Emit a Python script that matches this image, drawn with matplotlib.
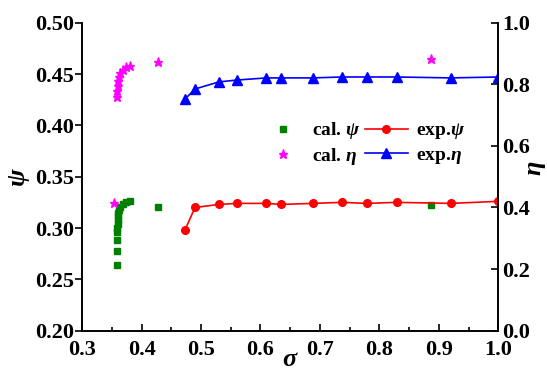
import matplotlib
matplotlib.use("Agg")
import matplotlib.pyplot as plt
from matplotlib.ticker import MultipleLocator, FormatStrFormatter

plt.rcParams['font.family'] = ['Liberation Serif', 'DejaVu Serif']
plt.rcParams['font.weight'] = 'bold'
plt.rcParams['mathtext.fontset'] = 'custom'
plt.rcParams['mathtext.it'] = 'Liberation Serif:italic:bold'
plt.rcParams['mathtext.rm'] = 'Liberation Serif:bold'

# calculated psi (green squares)
cal_psi_x = [0.359, 0.359, 0.359, 0.359, 0.359, 0.360, 0.360, 0.361, 0.361, 0.362,
             0.364, 0.369, 0.374, 0.381, 0.428, 0.887]
cal_psi_y = [0.264, 0.278, 0.288, 0.296, 0.300, 0.304, 0.308, 0.312, 0.315, 0.318,
             0.320, 0.323, 0.325, 0.326, 0.320, 0.322]

# calculated eta (magenta stars)
cal_eta_x = [0.354, 0.359, 0.359, 0.360, 0.361, 0.362, 0.364, 0.369, 0.374, 0.381, 0.428, 0.887]
cal_eta_y = [0.413, 0.760, 0.780, 0.796, 0.812, 0.825, 0.838, 0.848, 0.855, 0.861, 0.874, 0.884]

# experimental psi / eta
exp_x = [0.473, 0.49, 0.53, 0.56, 0.61, 0.635, 0.688, 0.737, 0.779, 0.829, 0.92, 1.0]
exp_psi = [0.298, 0.320, 0.323, 0.324, 0.324, 0.323, 0.324, 0.325, 0.324, 0.325, 0.324, 0.326]
exp_eta = [0.752, 0.785, 0.808, 0.814, 0.821, 0.821, 0.821, 0.824, 0.824, 0.824, 0.821, 0.824]

fig = plt.figure(figsize=(5.47, 3.74), dpi=100)
ax = fig.add_axes([0.150, 0.116, 0.761, 0.823])
ax2 = ax.twinx()

h1, = ax.plot(cal_psi_x, cal_psi_y, 's', color='#008000', markersize=5, linestyle='none', label=r'cal. $\psi$')
h3, = ax.plot(exp_x, exp_psi, '-o', color='#ff0000', markersize=5.5, linewidth=1.2, label=r'exp.$\psi$')
h2, = ax2.plot(cal_eta_x, cal_eta_y, '*', color='#ff00ff', markersize=6.5, linestyle='none', label=r'cal. $\eta$')
h4, = ax2.plot(exp_x, exp_eta, '-^', color='#0000ff', markersize=6.5, linewidth=1.2, label=r'exp.$\eta$')

ax.set_xlim(0.3, 1.0)
ax.set_ylim(0.20, 0.50)
ax2.set_ylim(0.0, 1.0)

ax.xaxis.set_major_locator(MultipleLocator(0.1))
ax.xaxis.set_minor_locator(MultipleLocator(0.05))
ax.yaxis.set_major_locator(MultipleLocator(0.05))
ax2.yaxis.set_major_locator(MultipleLocator(0.2))

ax.xaxis.set_major_formatter(FormatStrFormatter('%.1f'))
ax.yaxis.set_major_formatter(FormatStrFormatter('%.2f'))
ax2.yaxis.set_major_formatter(FormatStrFormatter('%.1f'))

for a in (ax, ax2):
    a.spines['top'].set_visible(False)
    for s in a.spines.values():
        s.set_linewidth(1.2)

ax.tick_params(axis='x', which='major', direction='in', length=5, width=1.2, labelsize=16, pad=7)
ax.tick_params(axis='x', which='minor', direction='in', length=3, width=1.2)
ax.tick_params(axis='y', direction='out', length=5, width=1.2, labelsize=16, pad=1)
ax2.tick_params(axis='y', direction='in', length=5, width=1.2, labelsize=16, pad=3)

ax.set_xlabel(r'$\sigma$', fontsize=19, labelpad=-8)
ax.set_ylabel(r'$\psi$', fontsize=19, labelpad=2)
fig.text(537 / 547, 1 - 168 / 374, r'$\eta$', fontsize=19, rotation=90, ha='center', va='center')

ax2.legend([h1, h2, h3, h4], [h1.get_label(), h2.get_label(), h3.get_label(), h4.get_label()],
           ncol=2, frameon=False, fontsize=14, loc='upper left', bbox_to_anchor=(0.39, 0.74),
           handlelength=2.2, columnspacing=0.2, handletextpad=0.4, labelspacing=0.25)

fig.savefig('out.png', dpi=100)
